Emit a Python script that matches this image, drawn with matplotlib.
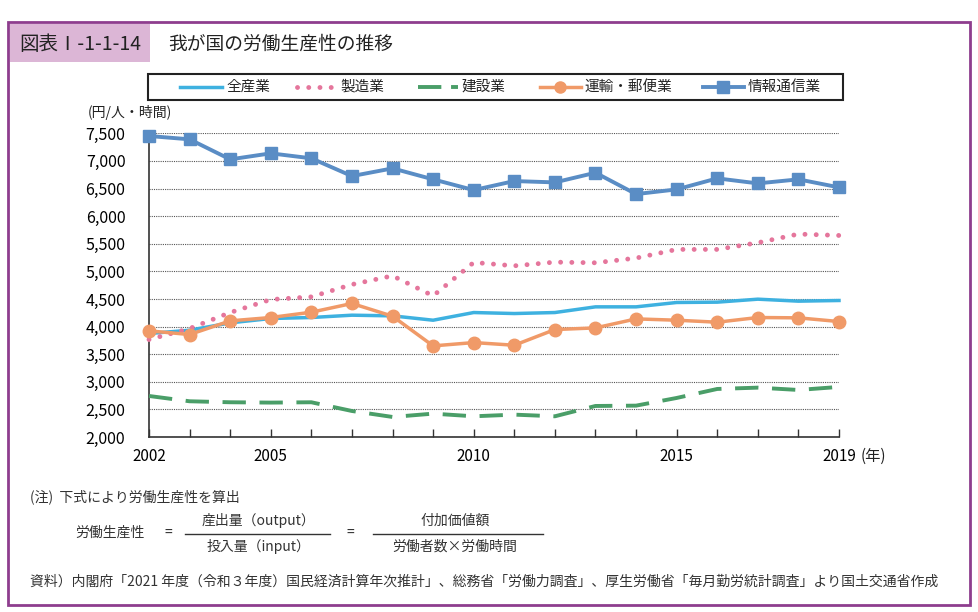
import matplotlib
matplotlib.use("Agg")
import matplotlib.pyplot as plt
from matplotlib.patches import Rectangle
from matplotlib.lines import Line2D
from matplotlib.ticker import FuncFormatter

plt.rcParams['font.family'] = ['Noto Sans CJK JP', 'DejaVu Sans']

years = list(range(2002, 2020))
zensangyo = [3874, 3934, 4067, 4146, 4164, 4206, 4194, 4115, 4254,
             4236, 4254, 4357, 4357, 4436, 4442, 4496, 4460, 4472]
seizo = [3765, 3964, 4254, 4490, 4538, 4762, 4919, 4556, 5161,
         5100, 5167, 5155, 5240, 5397, 5397, 5518, 5675, 5650]
kensetsu = [2743, 2647, 2629, 2623, 2629, 2471, 2363, 2423, 2375,
            2405, 2375, 2562, 2568, 2707, 2870, 2894, 2852, 2907]
unyu = [3922, 3856, 4103, 4164, 4260, 4418, 4188, 3650, 3710,
        3662, 3946, 3976, 4139, 4115, 4079, 4164, 4158, 4091]
joho = [7451, 7391, 7028, 7137, 7047, 6725, 6865, 6666, 6472,
        6635, 6611, 6786, 6399, 6484, 6684, 6593, 6666, 6521]
names = ['全産業', '製造業', '建設業', '運輸・郵便業', '情報通信業']
xlabels = {2002: '2002', 2005: '2005', 2010: '2010', 2015: '2015', 2019: '2019'}

W, H = 979, 612
fig = plt.figure(figsize=(W / 100, H / 100), dpi=100)


def fx(px):
    return px / W


def fy(py):
    return 1 - py / H


# frame and title box
fig.patches.append(Rectangle((fx(8), fy(605)), fx(962), 583 / H, transform=fig.transFigure,
                             fill=False, edgecolor='#8e3d8e', linewidth=2))
fig.patches.append(Rectangle((fx(10), fy(62)), fx(140), 38 / H, transform=fig.transFigure,
                             facecolor='#dcb6d6', edgecolor='none'))
fig.text(fx(19), fy(44), '図表Ⅰ-1-1-14', fontsize=14, va='center', ha='left', color='#222222')
fig.text(fx(168), fy(44), '我が国の労働生産性の推移', fontsize=13.5, va='center', ha='left', color='#222222')

ax = fig.add_axes([fx(149), fy(437), fx(690), (437 - 133.3) / H])

c_all = '#3eb1e0'
c_mfg = '#e5769c'
c_con = '#4a9e68'
c_trn = '#f09a68'
c_ict = '#5a8dc5'
styles = [
    dict(color=c_all, lw=2.5),
    dict(color=c_mfg, lw=3.5, linestyle=(0, (0.01, 2.3)), dash_capstyle='round'),
    dict(color=c_con, lw=2.8, linestyle=(0, (6, 3.5))),
    dict(color=c_trn, lw=2.5, marker='o', markersize=9),
    dict(color=c_ict, lw=2.8, marker='s', markersize=9),
]
series = [zensangyo, seizo, kensetsu, unyu, joho]
for vals, st, z in zip(series, styles, [3, 3, 3, 4, 4]):
    ax.plot(years, vals, clip_on=False, zorder=z, **st)

ax.set_xlim(2002, 2019)
ax.set_ylim(2000, 7500)
ax.set_yticks(range(2000, 7501, 500))
ax.yaxis.set_major_formatter(FuncFormatter(lambda v, p: f'{int(v):,}'))
ax.set_xticks(years)
ax.set_xticklabels([xlabels.get(y, '') for y in years])
ax.tick_params(axis='x', direction='in', length=6, width=1, color='#333333', labelsize=11, pad=8)
ax.tick_params(axis='y', length=0, labelsize=11.5, pad=17)
for s in ['top', 'right']:
    ax.spines[s].set_visible(False)
for s in ['left', 'bottom']:
    ax.spines[s].set_color('#333333')
    ax.spines[s].set_linewidth(1.2)
ax.yaxis.grid(True, linestyle=(0, (1, 1)), color='#555555', linewidth=0.8)
ax.set_axisbelow(True)

fig.text(fx(88), fy(113), '(円/人・時間)', fontsize=10, va='center', ha='left', color='#222222')
fig.text(fx(861), fy(456), '(年)', fontsize=11, va='center', ha='left', color='#222222')

# legend drawn by hand to match the spacing of the original
fig.patches.append(Rectangle((fx(148), fy(100)), fx(695), 26 / H, transform=fig.transFigure,
                             fill=False, edgecolor='#222222', linewidth=1.5))
seg = [(180, 222), (297, 336), (418, 458), (540, 581), (703, 744)]
for i, ((a, b), st, nm) in enumerate(zip(seg, styles, names)):
    st = dict(st)
    if 'markersize' in st:
        st['markersize'] = 8
        st['markevery'] = [1]
    if i == 2:
        st['linestyle'] = (0, (6, 2.5))
    fig.lines.append(Line2D([fx(a), fx((a + b) / 2), fx(b)], [fy(87)] * 3,
                            transform=fig.transFigure, **st))
    fig.text(fx(b + 4), fy(87), nm, fontsize=10.5, va='center', ha='left', color='#222222')

# notes
tc = '#333333'
fs = 10
fig.text(fx(30), fy(497), '(注)  下式により労働生産性を算出', fontsize=fs, va='center', color=tc)
fig.text(fx(75), fy(533), '労働生産性', fontsize=fs, va='center', color=tc)
fig.text(fx(168), fy(533), '=', fontsize=fs, va='center', ha='center', color=tc)
fig.text(fx(258), fy(521), '産出量（output）', fontsize=fs, va='center', ha='center', color=tc)
fig.text(fx(258), fy(547), '投入量（input）', fontsize=fs, va='center', ha='center', color=tc)
fig.lines.append(Line2D([fx(185), fx(330)], [fy(534), fy(534)], transform=fig.transFigure,
                        color='#333333', lw=1))
fig.text(fx(350), fy(533), '=', fontsize=fs, va='center', ha='center', color=tc)
fig.text(fx(455), fy(521), '付加価値額', fontsize=fs, va='center', ha='center', color=tc)
fig.text(fx(455), fy(547), '労働者数×労働時間', fontsize=fs, va='center', ha='center', color=tc)
fig.lines.append(Line2D([fx(373), fx(543)], [fy(534), fy(534)], transform=fig.transFigure,
                        color='#333333', lw=1))
fig.text(fx(30), fy(582),
         '資料）内閣府「2021 年度（令和３年度）国民経済計算年次推計」、総務省「労働力調査」、厚生労働省「毎月勤労統計調査」より国土交通省作成',
         fontsize=fs, va='center', color=tc)

fig.savefig('out.png', dpi=100)
